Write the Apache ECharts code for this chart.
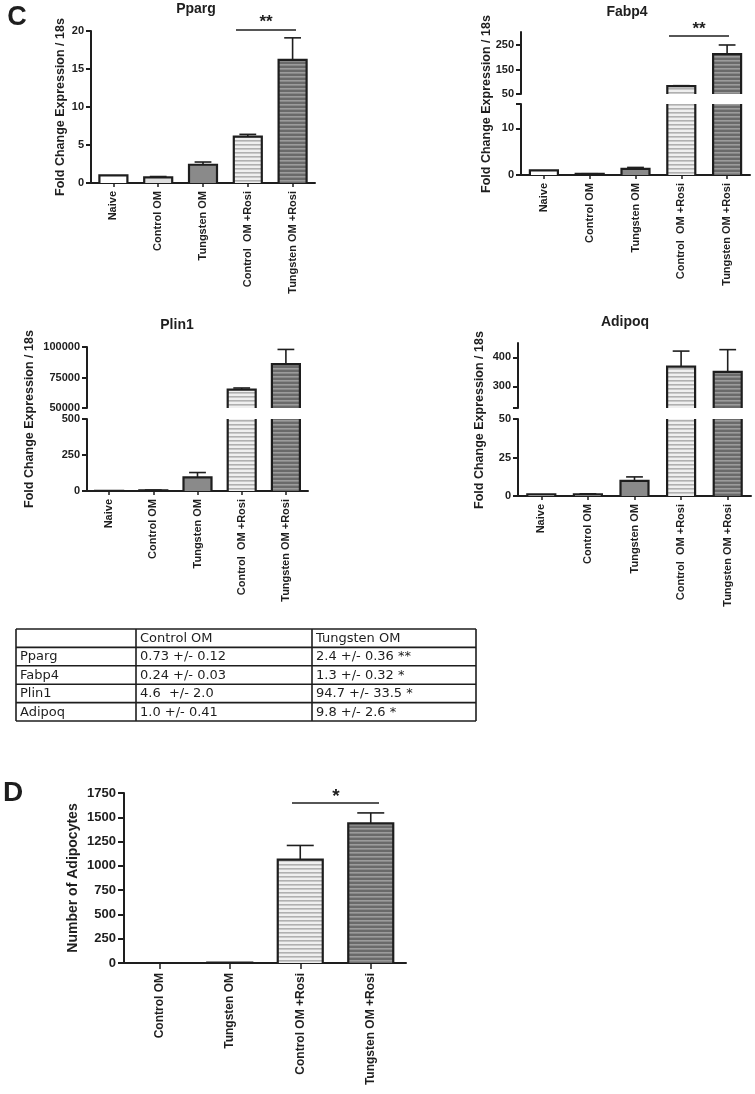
<!DOCTYPE html>
<html><head><meta charset="utf-8">
<script src="https://cdn.jsdelivr.net/npm/echarts@6/dist/echarts.min.js"></script>
<style>html,body{margin:0;padding:0;background:#fff}#c{width:755px;height:1094px}</style>
</head><body><div id="c"></div><script>
// ---------- DATA ----------
const categoriesC = ['Naive', 'Control OM', 'Tungsten OM', 'Control  OM +Rosi', 'Tungsten OM +Rosi'];
const categoriesD = ['Control OM', 'Tungsten OM', 'Control OM +Rosi', 'Tungsten OM +Rosi'];

const ppargMean = [1.0, 0.73, 2.4, 6.1, 16.2];
const ppargErr  = [0, 0.12, 0.36, 0.3, 2.9];
const fabp4Mean = [1.0, 0.24, 1.3, 82, 213];
const fabp4Err  = [0, 0.03, 0.32, 2, 37];
const plin1Mean = [1.0, 4.6, 94.7, 65000, 86000];
const plin1Err  = [0, 2.0, 33.5, 1400, 12000];
const adipoqMean = [1.0, 1.0, 9.8, 368, 350];
const adipoqErr  = [0, 0.41, 2.6, 54, 77];
const adipocyteMean = [0, 4, 1064, 1437];
const adipocyteErr  = [0, 0, 146, 108];

const ppargTicks = [0, 5, 10, 15, 20];
const fabp4UpperTicks = [50, 150, 250];
const fabp4LowerTicks = [0, 10];
const plin1UpperTicks = [50000, 75000, 100000];
const plin1LowerTicks = [0, 250, 500];
const adipoqUpperTicks = [300, 400];
const adipoqLowerTicks = [0, 25, 50];
const adipocyteTicks = [0, 250, 500, 750, 1000, 1250, 1500, 1750];

const tableHeader = ['', 'Control OM', 'Tungsten OM'];
const tableGenes = ['Pparg', 'Fabp4', 'Plin1', 'Adipoq'];
const tableControl = ['0.73 +/- 0.12', '0.24 +/- 0.03', '4.6  +/- 2.0', '1.0 +/- 0.41'];
const tableTungsten = ['2.4 +/- 0.36 **', '1.3 +/- 0.32 *', '94.7 +/- 33.5 *', '9.8 +/- 2.6 *'];

// ---------- STYLE ----------
const FF = '"Liberation Sans", Arial, Helvetica, sans-serif';
const INK = '#1e1e1e';
function stripe(bg, fg, period, th) {
  const c = document.createElement('canvas');
  c.width = 8; c.height = period;
  const g = c.getContext('2d');
  g.fillStyle = bg; g.fillRect(0, 0, 8, period);
  g.fillStyle = fg; g.fillRect(0, 0, 8, th);
  return { image: c, repeat: 'repeat' };
}
const lightStripe = stripe('#efefef', '#b0b0b0', 4, 1.6);
const darkStripe = stripe('#6a6a6a', '#9c9c9c', 4, 1.6);
const fillsC = ['#ffffff', '#dedede', '#8a8a8a', lightStripe, darkStripe];
const fillsD = ['#dedede', '#8a8a8a', lightStripe, darkStripe];

const grids = [], xAxes = [], yAxes = [], series = [], graphics = [];

function makeRender(p) {
  return function (params, api) {
    const k = api.value(0), v = api.value(1), e = api.value(2);
    const cs = params.coordSys;
    const bw = p.barW;
    const b = api.coord([k, 0]);
    const t = api.coord([k, v]);
    const cx = b[0], x0 = cx - bw / 2, x1 = cx + bw / 2;
    const gTop = cs.y, gBot = cs.y + cs.height;
    const yb = Math.min(b[1], gBot), yt = Math.max(t[1], gTop);
    const ch = [];
    if (yt > yb + 0.01) return { type: 'group', children: [] };
    const topIn = t[1] >= gTop - 0.5;
    ch.push({ type: 'rect', shape: { x: x0, y: yt, width: bw, height: Math.max(yb - yt, 0) }, style: { fill: p.fills[k] } });
    const bs = { stroke: INK, lineWidth: 2.2, fill: null };
    if (topIn) {
      ch.push({ type: 'polyline', shape: { points: [[x0, yb], [x0, yt], [x1, yt], [x1, yb]] }, style: bs });
      if (e > 0) {
        const ye = Math.max(api.coord([k, v + e])[1], gTop);
        const cw = bw * 0.3;
        const es = { stroke: INK, lineWidth: 1.6 };
        ch.push({ type: 'line', shape: { x1: cx, y1: yt, x2: cx, y2: ye }, style: es });
        ch.push({ type: 'line', shape: { x1: cx - cw, y1: ye, x2: cx + cw, y2: ye }, style: es });
      }
    } else {
      ch.push({ type: 'line', shape: { x1: x0, y1: yb, x2: x0, y2: yt }, style: bs });
      ch.push({ type: 'line', shape: { x1: x1, y1: yb, x2: x1, y2: yt }, style: bs });
    }
    return { type: 'group', children: ch };
  };
}

function addPanel(p) {
  p.segs.forEach((s, i) => {
    const gi = grids.length;
    const isBottom = i === p.segs.length - 1;
    grids.push({ left: p.left, top: s.top, width: p.width, height: s.height });
    xAxes.push({
      type: 'category', gridIndex: gi, data: p.cats, show: isBottom, boundaryGap: true,
      axisLine: { show: true, lineStyle: { color: INK, width: 2 } },
      axisTick: { show: true, alignWithLabel: true, length: p.xTick, lineStyle: { width: 1.5, color: INK } },
      axisLabel: { rotate: 90, interval: 0, margin: p.xMargin, fontSize: p.xFont, fontWeight: 'bold', color: INK, fontFamily: FF },
      splitLine: { show: false }
    });
    yAxes.push({
      type: 'value', gridIndex: gi, min: s.min, max: s.max,
      splitLine: { show: false },
      axisLine: { show: true, lineStyle: { color: INK, width: 2 } },
      axisTick: { show: true, length: p.yTick, customValues: s.ticks, lineStyle: { width: 2, color: INK } },
      axisLabel: { customValues: s.labels, formatter: v => String(v), fontSize: p.yFont, fontWeight: 'bold', color: INK, margin: p.yMargin, fontFamily: FF }
    });
    series.push({
      type: 'custom', coordinateSystem: 'cartesian2d', xAxisIndex: gi, yAxisIndex: gi,
      renderItem: makeRender(p), clip: false, silent: true,
      data: p.mean.map((m, k) => [k, m, p.err[k]])
    });
  });
}

const cBase = { cats: categoriesC, fills: fillsC, barW: 28, xFont: 11, yFont: 11, xTick: 4, yTick: 5, xMargin: 8, yMargin: 7 };
addPanel(Object.assign({}, cBase, { left: 91, width: 224, mean: ppargMean, err: ppargErr,
  segs: [{ top: 31, height: 152, min: 0, max: 20, ticks: ppargTicks, labels: ppargTicks }] }));
addPanel(Object.assign({}, cBase, { left: 521, width: 229, mean: fabp4Mean, err: fabp4Err,
  segs: [{ top: 32, height: 62, min: 50, max: 303, ticks: fabp4UpperTicks, labels: fabp4UpperTicks },
         { top: 104, height: 71, min: 0, max: 15.2, ticks: fabp4LowerTicks.concat([15.2]), labels: fabp4LowerTicks }] }));
addPanel(Object.assign({}, cBase, { left: 87, width: 221, mean: plin1Mean, err: plin1Err,
  segs: [{ top: 347, height: 61, min: 50000, max: 100000, ticks: plin1UpperTicks, labels: plin1UpperTicks },
         { top: 419, height: 72, min: 0, max: 500, ticks: plin1LowerTicks, labels: plin1LowerTicks }] }));
addPanel(Object.assign({}, cBase, { left: 518, width: 233, mean: adipoqMean, err: adipoqErr,
  segs: [{ top: 343, height: 65, min: 225, max: 450, ticks: [225].concat(adipoqUpperTicks), labels: adipoqUpperTicks },
         { top: 419, height: 77, min: 0, max: 50, ticks: adipoqLowerTicks, labels: adipoqLowerTicks }] }));
addPanel({ cats: categoriesD, fills: fillsD, barW: 45, xFont: 12, yFont: 13, xTick: 6, yTick: 6, xMargin: 10, yMargin: 8,
  left: 124, width: 282, mean: adipocyteMean, err: adipocyteErr,
  segs: [{ top: 793, height: 170, min: 0, max: 1750, ticks: adipocyteTicks, labels: adipocyteTicks }] });

// ---------- annotations ----------
function txt(x, y, text, font, rot) {
  graphics.push({ type: 'text', x: x, y: y, rotation: rot || 0, z: 10,
    style: { text: text, font: font, fill: INK, textAlign: 'center', textVerticalAlign: 'middle', align: 'center', verticalAlign: 'middle' } });
}
function hline(x1, x2, y, w) {
  graphics.push({ type: 'line', z: 10, shape: { x1: x1, y1: y, x2: x2, y2: y }, style: { stroke: INK, lineWidth: w || 1.5 } });
}
txt(17, 18, 'C', 'bold 27px ' + FF);
txt(13, 793, 'D', 'bold 28px ' + FF);
txt(196, 9, 'Pparg', 'bold 14px ' + FF);
txt(627, 12, 'Fabp4', 'bold 14px ' + FF);
txt(177, 325, 'Plin1', 'bold 14px ' + FF);
txt(625, 322, 'Adipoq', 'bold 14px ' + FF);
const yName = 'Fold Change Expression / 18s';
txt(61, 107, yName, 'bold 12.5px ' + FF, Math.PI / 2);
txt(487, 104, yName, 'bold 12.5px ' + FF, Math.PI / 2);
txt(30, 419, yName, 'bold 12.5px ' + FF, Math.PI / 2);
txt(480, 420, yName, 'bold 12.5px ' + FF, Math.PI / 2);
txt(73.5, 878, 'Number of Adipocytes', 'bold 14px ' + FF, Math.PI / 2);
hline(236, 296, 30); txt(266, 22, '**', 'bold 17px ' + FF);
hline(669, 729, 36); txt(699, 29, '**', 'bold 17px ' + FF);
hline(292, 379, 803); txt(336, 797, '*', 'bold 19px ' + FF);

// ---------- table ----------
const colX = [16, 136, 312, 476];
const rowY = [629, 647.4, 665.8, 684.2, 702.6, 721];
const TF = '13px "DejaVu Sans", Verdana, sans-serif';
colX.forEach(x => graphics.push({ type: 'line', z: 10, shape: { x1: x, y1: rowY[0], x2: x, y2: rowY[rowY.length - 1] }, style: { stroke: INK, lineWidth: 1.6 } }));
rowY.forEach(y => graphics.push({ type: 'line', z: 10, shape: { x1: colX[0], y1: y, x2: colX[colX.length - 1], y2: y }, style: { stroke: INK, lineWidth: 1.6 } }));
function cell(ci, ri, text) {
  graphics.push({ type: 'text', z: 10, x: colX[ci] + 4, y: (rowY[ri] + rowY[ri + 1]) / 2 + 0.5,
    style: { text: text, font: TF, fill: INK, textAlign: 'left', textVerticalAlign: 'middle', align: 'left', verticalAlign: 'middle' } });
}
tableHeader.forEach((h, i) => { if (h) cell(i, 0, h); });
tableGenes.forEach((g, r) => { cell(0, r + 1, g); cell(1, r + 1, tableControl[r]); cell(2, r + 1, tableTungsten[r]); });

const chart = echarts.init(document.getElementById('c'), null, { renderer: 'canvas' });
chart.setOption({
  animation: false, backgroundColor: '#fff',
  grid: grids, xAxis: xAxes, yAxis: yAxes, series: series, graphic: graphics
});
</script></body></html>
